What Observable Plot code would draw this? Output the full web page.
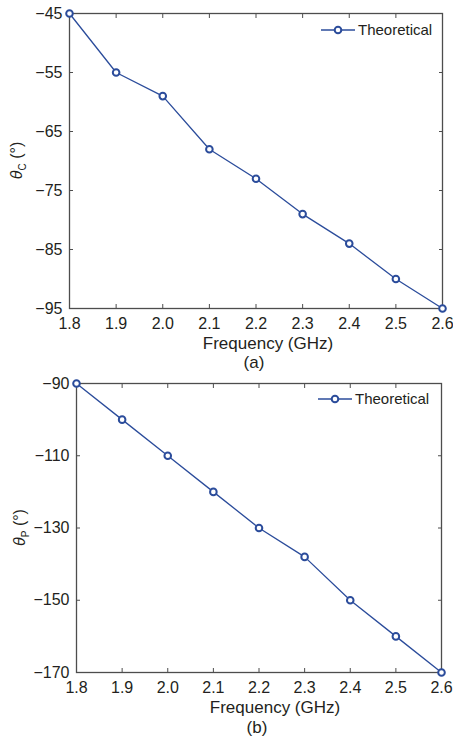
<!DOCTYPE html>
<html>
<head>
<meta charset="utf-8">
<script src="https://cdn.jsdelivr.net/npm/d3@7"></script>
<script src="https://cdn.jsdelivr.net/npm/@observablehq/plot@0.6"></script>
<style>
  body { margin: 0; background: white; font-family: "Liberation Sans", Arial, sans-serif; color: #231f20; }
  #wrap { position: relative; width: 453px; height: 740px; }
  .panel { position: absolute; left: 0; }
  .cap { position: absolute; width: 40px; text-align: center; font-size: 17px; line-height: 18px; }
  .legend { position: absolute; font-size: 15px; display: flex; align-items: center; }
</style>
</head>
<body>
<div id="wrap"></div>
<script>
const freq = [1.8, 1.9, 2.0, 2.1, 2.2, 2.3, 2.4, 2.5, 2.6];
const thetaC = [-45, -55, -59, -68, -73, -79, -84, -90, -95];
const thetaP = [-90, -100, -110, -120, -130, -138, -150, -160, -170];
const xTicks = [1.8, 1.9, 2.0, 2.1, 2.2, 2.3, 2.4, 2.5, 2.6];
const yTicksC = [-45, -55, -65, -75, -85, -95];
const yTicksP = [-90, -110, -130, -150, -170];
const seriesName = "Theoretical";
const xLabel = "Frequency (GHz)";

const blue = "#2b4c9b";
const axisColor = "#4d4d4d";
const textColor = "#231f20";
const wrap = document.getElementById("wrap");

function panel(values, yDomain, yTicks, cfg) {
  const data = freq.map((f, i) => ({f, v: values[i]}));
  const chart = Plot.plot({
    width: 453, height: cfg.height,
    marginLeft: cfg.ml, marginRight: cfg.mr, marginTop: cfg.mt, marginBottom: 44,
    style: {fontFamily: "'Liberation Sans', Arial, sans-serif", fontSize: "16px", color: textColor, background: "white", overflow: "visible"},
    x: {domain: [1.8, 2.6]},
    y: {domain: yDomain},
    marks: [
      Plot.axisX({ticks: xTicks, tickSize: -4, tickPadding: 13, fontSize: 16, tickFormat: d3.format(".1f"), stroke: axisColor, fill: textColor, label: null}),
      Plot.axisX({anchor: "top", ticks: xTicks, tickSize: -4, tickFormat: () => "", stroke: axisColor, label: null}),
      Plot.axisY({ticks: yTicks, tickSize: -4, tickPadding: 11, fontSize: 16, stroke: axisColor, fill: textColor, label: null}),
      Plot.axisY({anchor: "right", ticks: yTicks, tickSize: -4, tickFormat: () => "", stroke: axisColor, label: null}),
      Plot.frame({stroke: axisColor, strokeWidth: 1.3}),
      Plot.line(data, {x: "f", y: "v", stroke: blue, strokeWidth: 1.3}),
      Plot.dot(data, {x: "f", y: "v", r: 3.3, stroke: blue, strokeWidth: 2, fill: "white"})
    ]
  });
  chart.classList.add("panel");
  chart.style.top = cfg.top + "px";
  const svg = d3.select(chart);
  const plotBottom = cfg.height - 44;
  // x-axis label
  svg.append("text")
    .attr("x", cfg.xLabelX).attr("y", plotBottom + 41)
    .attr("text-anchor", "middle")
    .attr("fill", textColor)
    .style("font-size", "17px")
    .text(xLabel);
  // y-axis label with subscript
  const cy = cfg.mt + (plotBottom - cfg.mt) / 2;
  const t = svg.append("text")
    .attr("transform", `translate(${cfg.labelX},${cy}) rotate(-90)`)
    .attr("text-anchor", "middle")
    .attr("fill", textColor)
    .style("font-size", "16px");
  t.append("tspan").attr("font-style", "italic").text("θ");
  t.append("tspan").attr("font-size", "10px").attr("dy", "4").text(cfg.sub);
  t.append("tspan").attr("dy", "-4").text(" (°)");
  wrap.appendChild(chart);

  const cap = document.createElement("div");
  cap.className = "cap";
  cap.style.top = cfg.capTop + "px";
  cap.style.left = (cfg.capX - 20) + "px";
  cap.textContent = cfg.caption;
  wrap.appendChild(cap);

  const lg = document.createElement("div");
  lg.className = "legend";
  lg.style.left = cfg.legX + "px";
  lg.style.top = cfg.legY + "px";
  lg.innerHTML = `<svg width="36" height="12" style="margin-right:2px"><line x1="1" x2="35" y1="6" y2="6" stroke="${blue}" stroke-width="1.3"/><circle cx="18" cy="6" r="3.3" fill="white" stroke="${blue}" stroke-width="2"/></svg><span>${seriesName}</span>`;
  wrap.appendChild(lg);
}

panel(thetaC, [-95, -45], yTicksC, {height: 352, top: 0, ml: 69, mr: 11, mt: 13, sub: "C", labelX: 22, xLabelX: 268, caption: "(a)", capX: 254, capTop: 354, legX: 320, legY: 21});
panel(thetaP, [-170, -90], yTicksP, {height: 344, top: 372, ml: 76, mr: 12, mt: 11, sub: "P", labelX: 25, xLabelX: 275, caption: "(b)", capX: 257, capTop: 719, legX: 317, legY: 390});
</script>
</body>
</html>
